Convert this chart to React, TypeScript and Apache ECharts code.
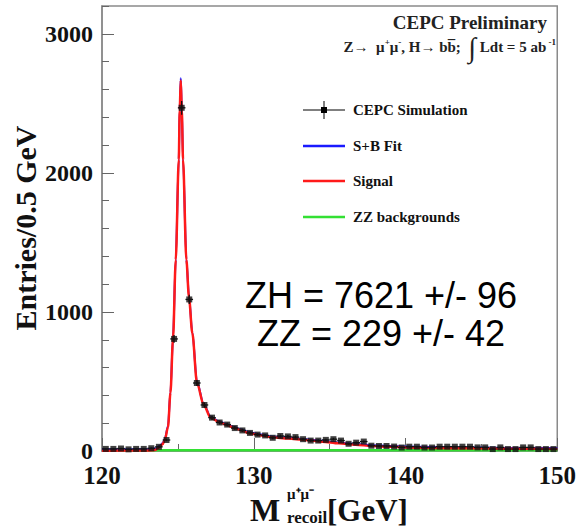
import React, { useEffect, useRef } from "react";
import * as echarts from "echarts";

// ---- data ----
const binCenters = [
  120.25, 120.75, 121.25, 121.75, 122.25, 122.75, 123.25, 123.75, 124.25, 124.75,
  125.25, 125.75, 126.25, 126.75, 127.25, 127.75, 128.25, 128.75, 129.25, 129.75,
  130.25, 130.75, 131.25, 131.75, 132.25, 132.75, 133.25, 133.75, 134.25, 134.75,
  135.25, 135.75, 136.25, 136.75, 137.25, 137.75, 138.25, 138.75, 139.25, 139.75,
  140.25, 140.75, 141.25, 141.75, 142.25, 142.75, 143.25, 143.75, 144.25, 144.75,
  145.25, 145.75, 146.25, 146.75, 147.25, 147.75, 148.25, 148.75, 149.25, 149.75,
];
const counts = [
  15, 15, 18, 12, 15, 15, 20, 30, 79, 806,
  2468, 1090, 489, 331, 240, 205, 190, 165, 148, 130,
  118, 112, 95, 108, 105, 100, 85, 75, 75, 80,
  85, 75, 52, 60, 68, 38, 36, 36, 32, 25,
  31, 31, 25, 25, 31, 31, 31, 31, 31, 26,
  26, 14, 26, 14, 14, 26, 26, 14, 14, 14,
];

const signalX = [
  120, 123, 123.5, 123.8, 124.0, 124.14, 124.35, 124.51, 124.68, 124.86, 125.06, 125.12,
  125.19, 125.26, 125.34, 125.56, 125.73, 125.95, 126.26, 126.7, 127.16, 127.7, 128.2,
  128.7, 129.2, 129.7, 130.5, 131.2, 132.3, 133.4, 134.5, 135.6, 136.7, 137.8, 139, 140,
  142, 144.4, 147, 150,
];
const signalY = [
  2, 3, 8, 28, 50, 79, 173, 417, 806, 1374, 2094, 2450,
  2664, 2450, 2094, 1374, 1108, 849, 489, 331, 240, 208, 188,
  166, 148, 128, 112, 98, 90, 79, 67, 55, 45, 36, 30, 26,
  22, 19, 16, 15,
];
const fitX = signalX;
const fitY = [
  12, 13, 18, 36, 58, 86, 180, 424, 813, 1381, 2101, 2458,
  2680, 2458, 2101, 1381, 1115, 856, 496, 338, 247, 214, 194,
  172, 154, 134, 118, 104, 96, 85, 73, 61, 51, 42, 36, 32,
  28, 25, 22, 21,
];
const zzX = [120, 150];
const zzY = [5, 5];

const xTicks = { min: 120, max: 150, interval: 10 };
const yTicks = { min: 0, max: 3200, interval: 1000, minorInterval: 200 };

const legendItems = ["CEPC Simulation", "S+B Fit", "Signal", "ZZ backgrounds"];
const resultLines = ["ZH = 7621 +/- 96", "ZZ = 229 +/- 42"];

const SERIF = "'Liberation Serif', 'Times New Roman', serif";
const SANS = "'Liberation Sans', Arial, sans-serif";
const AXIS_COLOR = "#8a8a8a";
const RED = "#ff1a1a";
const BLUE = "#1a1aff";
const GREEN = "#33e033";

export default function App() {
  const ref = useRef<HTMLDivElement>(null);

  useEffect(() => {
    if (!ref.current) return;
    const chart = echarts.init(ref.current, undefined, { renderer: "svg" });

    const points = binCenters.map((x, i) => [x, counts[i]]);
    const sig = signalX.map((x, i) => [x, signalY[i]]);
    const fit = fitX.map((x, i) => [x, fitY[i]]);
    const zz = zzX.map((x, i) => [x, zzY[i]]);

    const legendY = [110, 146, 181, 217];
    const legendColors = ["#000", BLUE, RED, GREEN];

    const graphics: any[] = [];
    legendItems.forEach((name, i) => {
      const y = legendY[i];
      graphics.push({
        type: "line",
        shape: { x1: 303, y1: y, x2: 345, y2: y },
        style: { stroke: legendColors[i], lineWidth: i === 0 ? 1 : 2.5 },
      });
      if (i === 0) {
        graphics.push({
          type: "line",
          shape: { x1: 324, y1: y - 9, x2: 324, y2: y + 9 },
          style: { stroke: "#000", lineWidth: 1 },
        });
        graphics.push({
          type: "rect",
          shape: { x: 321, y: y - 3, width: 6, height: 6 },
          style: { fill: "#000" },
        });
      }
      graphics.push({
        type: "text",
        x: 353,
        y,
        style: {
          text: name,
          font: `bold 15px ${SERIF}`,
          fill: "#111",
          verticalAlign: "middle",
          align: "left",
        },
      });
    });

    // header
    graphics.push({
      type: "text",
      x: 547,
      y: 22,
      style: {
        text: "CEPC Preliminary",
        font: `bold 19px ${SERIF}`,
        fill: "#222",
        align: "right",
        verticalAlign: "middle",
      },
    });
    graphics.push({
      type: "text",
      x: 556,
      y: 47,
      style: {
        text:
          "{a|Z\u2192  \u03bc}{s|+}{a|\u03bc}{s|-}{a|, H\u2192 bb\u0305;  }{i|\u222b}{a| Ldt = 5 ab}{s| -1}",
        align: "right",
        verticalAlign: "middle",
        rich: {
          a: { font: `bold 15px ${SERIF}`, fill: "#222", verticalAlign: "middle", lineHeight: 30 },
          s: { font: `bold 9px ${SERIF}`, fill: "#222", verticalAlign: "middle", lineHeight: 11, padding: [0, 0, 10, 0] },
          i: { font: `28px ${SERIF}`, fill: "#222", verticalAlign: "middle", lineHeight: 30 },
        },
      },
    });

    // fit results
    resultLines.forEach((t, i) => {
      graphics.push({
        type: "text",
        x: 381,
        y: 295 + i * 38,
        style: {
          text: t,
          font: `36px ${SANS}`,
          fill: "#000",
          align: "center",
          verticalAlign: "middle",
        },
      });
    });

    // axis titles
    graphics.push({
      type: "text",
      x: 25,
      y: 228,
      rotation: Math.PI / 2,
      style: {
        text: "Entries/0.5 GeV",
        font: `bold 30px ${SERIF}`,
        fill: "#111",
        align: "center",
        verticalAlign: "middle",
      },
    });
    graphics.push({
      type: "text",
      x: 250,
      y: 510,
      style: { text: "M", font: `bold 32px ${SERIF}`, fill: "#111", align: "left", verticalAlign: "middle" },
    });
    graphics.push({
      type: "text",
      x: 287,
      y: 494,
      style: { text: "\u03bc\u207a\u03bc\u207b", font: `bold 15px ${SERIF}`, fill: "#111", align: "left", verticalAlign: "middle" },
    });
    graphics.push({
      type: "text",
      x: 287,
      y: 517,
      style: { text: "recoil", font: `bold 17px ${SERIF}`, fill: "#111", align: "left", verticalAlign: "middle" },
    });
    graphics.push({
      type: "text",
      x: 327,
      y: 510,
      style: { text: "[GeV]", font: `bold 31px ${SERIF}`, fill: "#111", align: "left", verticalAlign: "middle" },
    });

    const option: any = {
      animation: false,
      backgroundColor: "#fff",
      grid: {
        left: 102,
        right: 20,
        top: 6,
        bottom: 76,
        show: true,
        borderColor: AXIS_COLOR,
        borderWidth: 1.5,
        backgroundColor: "transparent",
      },
      xAxis: {
        type: "value",
        min: xTicks.min,
        max: xTicks.max,
        interval: xTicks.interval,
        axisLine: { show: true, lineStyle: { color: AXIS_COLOR, width: 1.5 } },
        axisTick: { show: true, inside: true, length: 13, lineStyle: { color: "#666", width: 1 } },
        minorTick: { show: true, splitNumber: 2, length: 7, lineStyle: { color: "#666", width: 1 } },
        axisLabel: {
          fontFamily: SERIF,
          fontWeight: "bold",
          fontSize: 25,
          lineHeight: 18,
          color: "#111",
          margin: 15,
          formatter: (v: number) => String(v),
        },
        splitLine: { show: false },
      },
      yAxis: [
        {
          type: "value",
          min: yTicks.min,
          max: yTicks.max,
          interval: yTicks.interval,
          axisLine: { show: true, lineStyle: { color: AXIS_COLOR, width: 1.5 } },
          axisTick: { show: true, inside: true, length: 12, lineStyle: { color: "#666", width: 1 } },
          axisLabel: {
            fontFamily: SERIF,
            fontWeight: "bold",
            fontSize: 24,
            lineHeight: 16,
            color: "#111",
            margin: 9,
            showMaxLabel: false,
            formatter: (v: number) => String(v),
          },
          splitLine: { show: false },
        },
        {
          type: "value",
          position: "left",
          min: yTicks.min,
          max: yTicks.max,
          interval: yTicks.minorInterval,
          axisLine: { show: false },
          axisTick: { show: true, inside: true, length: 7, lineStyle: { color: "#666", width: 1 } },
          axisLabel: { show: false },
          splitLine: { show: false },
        },
      ],
      series: [
        {
          name: "ZZ backgrounds",
          type: "line",
          data: zz,
          showSymbol: false,
          lineStyle: { color: GREEN, width: 2.5 },
          z: 2,
        },
        {
          name: "S+B Fit",
          type: "line",
          data: fit,
          showSymbol: false,
          smooth: 0.3,
          smoothMonotone: "x",
          lineStyle: { color: BLUE, width: 2 },
          z: 3,
        },
        {
          name: "Signal",
          type: "line",
          data: sig,
          showSymbol: false,
          smooth: 0.3,
          smoothMonotone: "x",
          lineStyle: { color: RED, width: 2.5 },
          z: 4,
        },
        {
          name: "errors",
          type: "custom",
          data: points,
          z: 5,
          renderItem: (params: any, api: any) => {
            const x = api.value(0);
            const y = api.value(1);
            const l = api.coord([x - 0.25, y]);
            const r = api.coord([x + 0.25, y]);
            const e = Math.sqrt(y);
            const t = api.coord([x, y + e]);
            const b = api.coord([x, Math.max(0, y - e)]);
            return {
              type: "group",
              children: [
                { type: "line", shape: { x1: l[0], y1: l[1], x2: r[0], y2: r[1] }, style: { stroke: "#111", lineWidth: 1.3 } },
                { type: "line", shape: { x1: t[0], y1: t[1], x2: b[0], y2: b[1] }, style: { stroke: "#111", lineWidth: 1.3 } },
              ],
            };
          },
        },
        {
          name: "CEPC Simulation",
          type: "scatter",
          data: points,
          symbol: "rect",
          symbolSize: 6,
          itemStyle: { color: "#111" },
          z: 6,
        },
      ],
      graphic: graphics,
    };

    chart.setOption(option);
    return () => chart.dispose();
  }, []);

  return (
    <div
      ref={ref}
      style={{ position: "absolute", left: 0, top: 0, width: 579, height: 527 }}
    />
  );
}
